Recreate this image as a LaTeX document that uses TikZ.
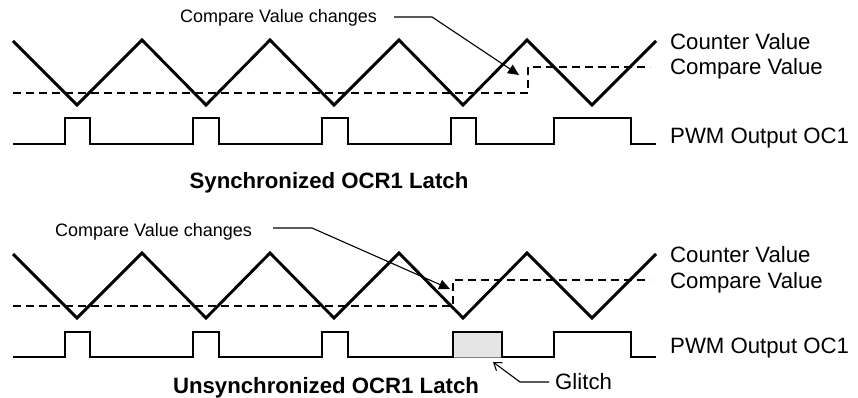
\documentclass[tikz,border=0pt]{standalone}
\usepackage{fontspec}
\setmainfont{Liberation Sans}
\usetikzlibrary{arrows.meta}
\begin{document}
\begin{tikzpicture}[x=1pt,y=-1pt,
  wave/.style={line width=2.9pt,line join=miter,line cap=butt},
  cmpline/.style={line width=1.2pt,dash pattern=on 8pt off 5pt},
  callout/.style={line width=1.1pt},
  lbl/.style={font=\fontsize{22.2}{26}\selectfont,inner sep=0pt,anchor=base west},
  small/.style={font=\fontsize{18}{21}\selectfont,inner sep=0pt,anchor=base west},
  title/.style={font=\fontsize{22.2}{26}\selectfont\bfseries,inner sep=0pt,anchor=base}]
\useasboundingbox (0,0) rectangle (858,398);

% ---------- top: synchronized ----------
\draw[wave] (13,41) -- (77,105) -- (142,40) -- (206,105) -- (270,40) -- (334,105)
  -- (399,40) -- (463,105) -- (527,40) -- (592,105) -- (656,41);
\draw[cmpline] (13,93) -- (528,93) -- (528,67) -- (650,67);
\draw[wave] (13,144) -- (65,144) -- (65,118) -- (90,118) -- (90,144)
  -- (193,144) -- (193,118) -- (219,118) -- (219,144)
  -- (322,144) -- (322,118) -- (348,118) -- (348,144)
  -- (451,144) -- (451,118) -- (476,118) -- (476,144)
  -- (554,144) -- (554,118) -- (631,118) -- (631,144) -- (656,144);

\node[small] (cvc1) at (180,23) {Compare Value changes};
\coordinate (k1) at (432,17);
\coordinate (t1) at (519,75);
\draw[callout,-{Triangle[length=11pt,width=10pt]}] (394,17) -- (k1) -- (t1);

\node[lbl] (cnt1) at (670,50) {Counter Value};
\node[lbl] (cmp1) at (670,75) {Compare Value};
\node[lbl] (pwm1) at (670,143) {PWM Output OC1};
\node[title] (ttl1) at (329,188) {Synchronized OCR1 Latch};

% ---------- bottom: unsynchronized ----------
\fill[gray!20] (453,332) rectangle (502,357);
\draw[gray,line width=0.8pt] (453,332) rectangle (502,357);
\draw[wave] (13,254) -- (77,318) -- (142,253) -- (206,318) -- (270,253) -- (334,318)
  -- (399,253) -- (463,318) -- (527,253) -- (592,318) -- (656,254);
\draw[cmpline] (13,306) -- (453,306) -- (453,280) -- (650,280);
\draw[wave] (13,357) -- (65,357) -- (65,332) -- (90,332) -- (90,357)
  -- (193,357) -- (193,332) -- (219,332) -- (219,357)
  -- (322,357) -- (322,332) -- (348,332) -- (348,357)
  -- (453,357) -- (453,332) -- (502,332) -- (502,357)
  -- (554,357) -- (554,332) -- (631,332) -- (631,357) -- (656,357);

\node[small] (cvc2) at (55,236) {Compare Value changes};
\coordinate (k2) at (312,228);
\coordinate (t2) at (450,289);
\draw[callout,-{Triangle[length=11pt,width=10pt]}] (273,228) -- (k2) -- (t2);

\node[lbl] (cnt2) at (670,262) {Counter Value};
\node[lbl] (cmp2) at (670,288) {Compare Value};
\node[lbl] (pwm2) at (670,353) {PWM Output OC1};
\node[title] (ttl2) at (326,393) {Unsynchronized OCR1 Latch};

\node[lbl] (gl) at (555,389) {Glitch};
\coordinate (gk) at (520,382);
\coordinate (gt) at (493,362);
\draw[callout,-{Straight Barb[length=7pt,width=10pt]}] (549,382) -- (gk) -- (gt);
\end{tikzpicture}
\end{document}
